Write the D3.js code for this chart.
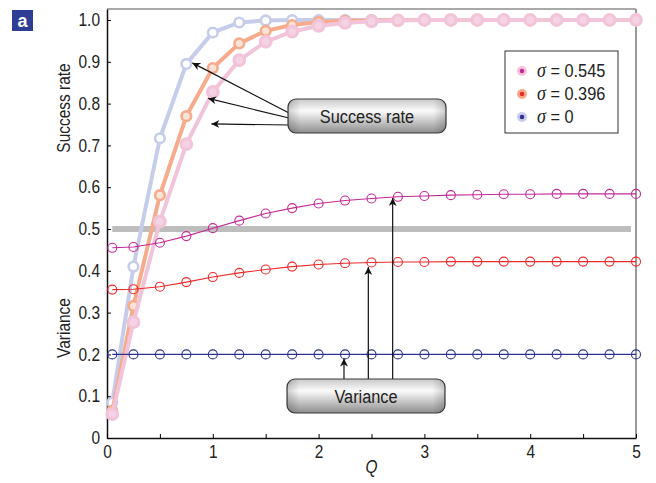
<!DOCTYPE html>
<html>
  <head>
    <script src="https://d3js.org/d3.v7.min.js"></script>
    <style>
      body { margin: 0; background: #fff; }
      text { font-family: "Liberation Sans", Arial, sans-serif; fill: #222; }
    </style>
  </head>
  <body>
    <svg width="656" height="483"></svg>
    <script>
      // data
      var qVals = [0.05, 0.25, 0.5, 0.75, 1, 1.25, 1.5, 1.75, 2, 2.25, 2.5, 2.75, 3, 3.25, 3.5, 3.75, 4, 4.25, 4.5, 4.75, 5];

      var succS0   = [0.085, 0.41, 0.717, 0.895, 0.970, 0.994, 0.999, 1, 1, 1, 1, 1, 1, 1, 1, 1, 1, 1, 1, 1, 1];
      var succS396 = [0.065, 0.316, 0.581, 0.770, 0.885, 0.944, 0.974, 0.988, 0.995, 0.998, 0.999, 1, 1, 1, 1, 1, 1, 1, 1, 1, 1];
      var succS545 = [0.057, 0.277, 0.518, 0.703, 0.828, 0.904, 0.948, 0.972, 0.986, 0.993, 0.997, 0.999, 1, 1, 1, 1, 1, 1, 1, 1, 1];

      var varS545 = [0.455, 0.457, 0.467, 0.483, 0.502, 0.520, 0.537, 0.550, 0.561, 0.568, 0.573, 0.577, 0.579, 0.581, 0.582, 0.583, 0.583, 0.584, 0.584, 0.584, 0.584];
      var varS396 = [0.355, 0.356, 0.362, 0.373, 0.385, 0.395, 0.403, 0.410, 0.415, 0.418, 0.420, 0.421, 0.421, 0.422, 0.422, 0.422, 0.422, 0.422, 0.422, 0.422, 0.422];
      var varS0   = [0.2, 0.2, 0.2, 0.2, 0.2, 0.2, 0.2, 0.2, 0.2, 0.2, 0.2, 0.2, 0.2, 0.2, 0.2, 0.2, 0.2, 0.2, 0.2, 0.2, 0.2];

      var halfLine = [0.05, 5]; // gray reference at 0.5
      var halfValue = 0.5;

      var yTicks = [0, 0.1, 0.2, 0.3, 0.4, 0.5, 0.6, 0.7, 0.8, 0.9, 1.0];
      var xTicks = [0, 0.5, 1, 1.5, 2, 2.5, 3, 3.5, 4, 4.5, 5];
      var xLabels = [0, 1, 2, 3, 4, 5];

      var legendLabels = ["0.545", "0.396", "0"];
      var legendDark = ["#c42a96", "#ec2a2a", "#2e3192"];
      var legendLight = ["#f2c4da", "#f6ac8c", "#c6cdea"];

      var svg = d3.select("svg");

      var pL = 107, pR = 636, pT = 9, pB = 438;
      var x = d3.scaleLinear().domain([0, 5]).range([pL, pR]);
      var y = d3.scaleLinear().domain([0, 1.0263]).range([pB, pT]);

      var narrow = 0.86; // the figure uses a condensed face

      // gradient for callouts
      var defs = svg.append("defs");
      var grad = defs.append("linearGradient").attr("id", "boxg").attr("x1", 0).attr("y1", 0).attr("x2", 0).attr("y2", 1);
      grad.append("stop").attr("offset", "0%").attr("stop-color", "#c8c8c8");
      grad.append("stop").attr("offset", "35%").attr("stop-color", "#fbfbfb");
      grad.append("stop").attr("offset", "100%").attr("stop-color", "#8e8e8e");
      var grad2 = defs.append("linearGradient").attr("id", "boxh").attr("x1", 0).attr("y1", 0).attr("x2", 1).attr("y2", 0);
      grad2.append("stop").attr("offset", "0%").attr("stop-color", "#000").attr("stop-opacity", 0.18);
      grad2.append("stop").attr("offset", "8%").attr("stop-color", "#000").attr("stop-opacity", 0);
      grad2.append("stop").attr("offset", "92%").attr("stop-color", "#000").attr("stop-opacity", 0);
      grad2.append("stop").attr("offset", "100%").attr("stop-color", "#000").attr("stop-opacity", 0.18);
      defs.append("marker").attr("id", "arr").attr("viewBox", "0 0 10 10").attr("refX", 10).attr("refY", 5)
        .attr("markerWidth", 8).attr("markerHeight", 8).attr("markerUnits", "userSpaceOnUse").attr("orient", "auto")
        .append("path").attr("d", "M0,0 L10,5 L0,10 L3,5 Z").attr("fill", "#111");

      // frame
      svg.append("line").attr("x1", pL).attr("x2", pR).attr("y1", pT).attr("y2", pT).attr("stroke", "#555").attr("stroke-width", 1.2);
      svg.append("line").attr("x1", pR).attr("x2", pR).attr("y1", pT).attr("y2", pB).attr("stroke", "#999").attr("stroke-width", 2);

      // axes
      var yAxis = d3.axisLeft(y).tickValues(yTicks).tickSizeInner(-4).tickSizeOuter(0).tickPadding(7)
        .tickFormat(function(d) { return d === 0 ? "0" : d3.format(".1f")(d); });
      var gy = svg.append("g").attr("transform", "translate(" + pL + ",0)").call(yAxis);
      gy.select(".domain").attr("stroke", "#111").attr("stroke-width", 1.5);
      gy.selectAll("text").attr("font-size", 18).style("font-family", null)
        .attr("x", -7 / narrow).attr("transform", "scale(" + narrow + ",1)");

      var xAxis = d3.axisBottom(x).tickValues(xTicks).tickSizeInner(-4).tickSizeOuter(0).tickPadding(7)
        .tickFormat(function(d) { return xLabels.indexOf(d) >= 0 ? d : ""; });
      var gx = svg.append("g").attr("transform", "translate(0," + pB + ")").call(xAxis);
      gx.select(".domain").attr("stroke", "#111").attr("stroke-width", 1.5);
      gx.selectAll("text").attr("font-size", 18).style("font-family", null)
        .attr("transform", "scale(" + narrow + ",1)");

      // axis titles
      svg.append("text").attr("transform", "translate(70,108) rotate(-90) scale(" + narrow + ",1)").attr("text-anchor", "middle").attr("font-size", 18).text("Success rate");
      svg.append("text").attr("transform", "translate(70,328) rotate(-90) scale(" + narrow + ",1)").attr("text-anchor", "middle").attr("font-size", 18).text("Variance");
      svg.append("text").attr("transform", "translate(" + x(2.5) + ",473) scale(" + narrow + ",1)").attr("text-anchor", "middle").attr("font-size", 18).attr("font-style", "italic").text("Q");

      // gray 0.5 bar
      svg.append("line").attr("x1", x(halfLine[0])).attr("x2", x(halfLine[1]) - 5)
        .attr("y1", y(halfValue)).attr("y2", y(halfValue)).attr("stroke", "#bdbdbd").attr("stroke-width", 6);

      var line = d3.line().x(function(d) { return x(d[0]); }).y(function(d) { return y(d[1]); });

      function series(vals, color, width, r, sw, fill) {
        var pts = qVals.map(function(q, i) { return [q, vals[i]]; });
        var g = svg.append("g");
        g.append("path").datum(pts).attr("d", line).attr("fill", "none").attr("stroke", color).attr("stroke-width", width);
        g.selectAll("circle").data(pts).enter().append("circle")
          .attr("cx", function(d) { return x(d[0]); })
          .attr("cy", function(d) { return y(d[1]); })
          .attr("r", r).attr("fill", fill).attr("stroke", color).attr("stroke-width", sw);
      }

      // success rate (thick, light)
      series(succS0, legendLight[2], 4, 4.8, 2.6, "#fff");
      series(succS396, legendLight[1], 4, 4.8, 2.6, "#fbe3d8");
      series(succS545, legendLight[0], 4, 5.3, 3.2, "#f5d3e4");

      // variance (thin)
      series(varS545, legendDark[0], 1.1, 4.5, 1.1, "none");
      series(varS396, legendDark[1], 1.1, 4.5, 1.1, "none");
      series(varS0, legendDark[2], 1.1, 4.5, 1.1, "none");

      // legend
      var lg = svg.append("g");
      lg.append("rect").attr("x", 505).attr("y", 51).attr("width", 113).attr("height", 82).attr("fill", "#fff").attr("stroke", "#333").attr("stroke-width", 1);
      legendLabels.forEach(function(lab, i) {
        var cy = 71 + i * 23;
        lg.append("circle").attr("cx", 522).attr("cy", cy).attr("r", 5).attr("fill", legendLight[i]);
        lg.append("circle").attr("cx", 522).attr("cy", cy).attr("r", 2.3).attr("fill", legendDark[i]);
        var t = lg.append("text").attr("transform", "translate(537," + (cy + 6) + ") scale(" + narrow + ",1)").attr("font-size", 19);
        t.append("tspan").attr("font-family", "Liberation Serif, serif").attr("font-style", "italic").attr("font-size", 21).text("\u03c3");
        t.append("tspan").text(" = " + lab);
      });

      // callouts
      function callout(bx, by, label) {
        var g = svg.append("g");
        g.append("rect").attr("x", bx).attr("y", by).attr("width", 158).attr("height", 34).attr("rx", 8).attr("fill", "url(#boxg)").attr("stroke", "#3a3a3a").attr("stroke-width", 1.2);
        g.append("rect").attr("x", bx).attr("y", by).attr("width", 158).attr("height", 34).attr("rx", 8).attr("fill", "url(#boxh)");
        g.append("text").attr("transform", "translate(" + (bx + 79) + "," + (by + 24) + ") scale(" + narrow + ",1)")
          .attr("text-anchor", "middle").attr("font-size", 19).text(label);
      }

      // arrows: success rate
      var sArrows = [[0.75, succS0[3], 113], [0.9, 0.81, 118], [0.93, 0.749, 125]];
      sArrows.forEach(function(a) {
        svg.append("line").attr("x1", 289).attr("y1", a[2]).attr("x2", x(a[0]) + 6).attr("y2", y(a[1]) - 1)
          .attr("stroke", "#111").attr("stroke-width", 1.2).attr("marker-end", "url(#arr)");
      });
      // arrows: variance
      var vArrows = [[2.24, 0.19], [2.47, 0.409], [2.70, 0.574]];
      vArrows.forEach(function(a) {
        svg.append("line").attr("x1", x(a[0])).attr("y1", 380).attr("x2", x(a[0])).attr("y2", y(a[1]))
          .attr("stroke", "#111").attr("stroke-width", 1.2).attr("marker-end", "url(#arr)");
      });

      callout(288, 99, "Success rate");
      callout(287, 379, "Variance");

      // panel tag
      svg.append("rect").attr("x", 12).attr("y", 10).attr("width", 21).attr("height", 21).attr("fill", "#2e3d96");
      svg.append("text").attr("x", 22.5).attr("y", 27).attr("text-anchor", "middle").attr("font-size", 18).attr("font-weight", "bold").style("fill", "#fff").text("a");
    </script>
  </body>
</html>
